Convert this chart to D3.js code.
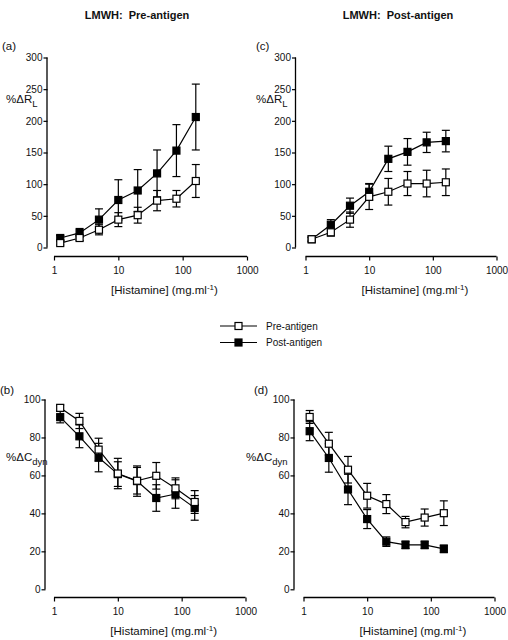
<!DOCTYPE html>
<html><head><meta charset="utf-8">
<script src="https://cdn.jsdelivr.net/npm/d3@7"></script>
<style>body{margin:0;background:#fff}svg{display:block;font-family:"Liberation Sans",Arial,sans-serif}text{white-space:pre}</style>
</head><body>
<svg id="c" width="508" height="640"></svg>
<script>
const doses = [1.25, 2.5, 5, 10, 20, 40, 80, 160];
const xTicks = [1, 10, 100, 1000];
const rlTicks = [0, 50, 100, 150, 200, 250, 300];
const cdynTicks = [0, 20, 40, 60, 80, 100];
const seriesNames = ["Pre-antigen", "Post-antigen"];
const titles = ["LMWH:  Pre-antigen", "LMWH:  Post-antigen"];

const aPre = [7, 15, 28, 44, 51, 74, 77, 105];
const aPreErr = [3, 4, 8, 11, 12.5, 16, 13, 26];
const aPost = [15, 23, 44, 75, 90, 117, 153, 206];
const aPostErr = [4, 7, 17, 32, 33, 37, 41, 52];

const cPre = [13, 24, 44, 80, 88, 101, 101, 103];
const cPreErr = [3, 6, 12, 20, 21, 19, 21, 21];
const cPost = [13, 36, 66, 88, 140, 151, 166, 168];
const cPostErr = [3, 8, 12, 13, 20, 21, 16, 17];

const bPre = [95.6, 88.7, 73.6, 61, 57.2, 59.8, 53.2, 46];
const bPreErr = [1.5, 4, 6, 8, 7, 7, 5.5, 6];
const bPost = [90.7, 80.6, 69.4, 60.7, 57, 48.1, 50.2, 42.9];
const bPostErr = [3, 6, 7.5, 6.5, 8, 7, 7.5, 6.5];

const dPre = [90.8, 76.7, 63, 49.3, 44.9, 35.4, 37.8, 40.1];
const dPreErr = [3.4, 6, 7, 6.5, 5, 3, 4.5, 6.5];
const dPost = [83.3, 69.2, 52.6, 37, 25.1, 23.4, 23.4, 21.3];
const dPostErr = [5, 7.5, 8, 5, 2.5, 2, 2, 2];

const svg = d3.select("#c");

function panel(opt) {
  const g = svg.append("g");
  const x = d3.scaleLog().domain([1, 1000]).range([opt.x0, opt.x1]);
  const y = d3.scaleLinear().domain([0, opt.ymax]).range([opt.yb, opt.yt]);

  // y axis
  const ya = g.append("g").attr("transform", `translate(${opt.ax},0)`)
    .call(d3.axisLeft(y).tickValues(opt.yticks).tickSize(4).tickPadding(1).tickFormat(d3.format("d")));
  ya.select(".domain").attr("d", `M-0.5,${opt.yb}V${opt.yt}`).attr("stroke-width", 1.3);
  ya.selectAll(".tick line").attr("stroke-width", 1.2);
  ya.selectAll("text").attr("font-size", 10).attr("fill", "#111");

  // x axis
  const xa = g.append("g").attr("transform", `translate(0,${opt.xy})`)
    .call(d3.axisBottom(x).tickValues(xTicks).tickSize(4).tickPadding(6).tickFormat(d3.format("d")));
  xa.select(".domain").attr("d", `M${opt.x0},0H${opt.x1}`).attr("stroke-width", 1.3);
  xa.selectAll(".tick line").attr("stroke-width", 1.2);
  xa.selectAll("text").attr("font-size", 10).attr("fill", "#111");

  // x title
  const xt = g.append("text").attr("x", (opt.x0 + opt.x1) / 2 + 14).attr("y", opt.xy + 37)
    .attr("text-anchor", "middle").attr("font-size", 11.5).attr("fill", "#111");
  xt.append("tspan").text("[Histamine] (mg.ml");
  xt.append("tspan").attr("dy", -4).attr("font-size", 8).text("-1");
  xt.append("tspan").attr("dy", 4).text(")");

  // y title
  const yt = g.append("text").attr("x", opt.ytx).attr("y", opt.yty)
    .attr("font-size", 11.5).attr("fill", "#111");
  yt.append("tspan").text(opt.ylab[0]);
  yt.append("tspan").attr("dy", 4).attr("font-size", 9.5).text(opt.ylab[1]);

  // panel label
  g.append("text").attr("x", opt.lx).attr("y", opt.ly).attr("font-size", 11.5).attr("fill", "#111").text(opt.label);

  const series = [
    {vals: opt.post, err: opt.postErr, fill: "#000"},
    {vals: opt.pre, err: opt.preErr, fill: "#fff"}
  ];
  const cap = 4;
  series.forEach(s => {
    const pts = doses.map((d, i) => ({d, v: s.vals[i], e: s.err[i]}));
    const eb = g.append("g").attr("stroke", "#000").attr("stroke-width", 1.2);
    pts.forEach(p => {
      const cx = x(p.d), t = y(p.v + p.e), b = y(p.v - p.e);
      eb.append("line").attr("x1", cx).attr("x2", cx).attr("y1", t).attr("y2", b);
      eb.append("line").attr("x1", cx - cap).attr("x2", cx + cap).attr("y1", t).attr("y2", t);
      eb.append("line").attr("x1", cx - cap).attr("x2", cx + cap).attr("y1", b).attr("y2", b);
    });
    s.pts = pts;
  });
  series.forEach(s => {
    g.append("path").datum(s.pts)
      .attr("d", d3.line().x(p => x(p.d)).y(p => y(p.v)))
      .attr("fill", "none").attr("stroke", "#000").attr("stroke-width", 1.2);
  });
  series.forEach(s => {
    g.append("g").selectAll("rect").data(s.pts).join("rect")
      .attr("x", p => x(p.d) - 3.5).attr("y", p => y(p.v) - 3.5)
      .attr("width", 7).attr("height", 7)
      .attr("fill", s.fill).attr("stroke", "#000").attr("stroke-width", 1.2);
  });
}

panel({x0: 54, x1: 247, ax: 47.5, yb: 247.5, yt: 57.5, ymax: 300, yticks: rlTicks, xy: 256.5,
  pre: aPre, preErr: aPreErr, post: aPost, postErr: aPostErr,
  ylab: ["%ΔR", "L"], ytx: 6, yty: 103, label: "(a)", lx: 2, ly: 50});
panel({x0: 305.5, x1: 496.5, ax: 296, yb: 247.5, yt: 57.5, ymax: 300, yticks: rlTicks, xy: 256.5,
  pre: cPre, preErr: cPreErr, post: cPost, postErr: cPostErr,
  ylab: ["%ΔR", "L"], ytx: 256, yty: 103, label: "(c)", lx: 256, ly: 50});
panel({x0: 54, x1: 245.5, ax: 45.5, yb: 589.3, yt: 399.5, ymax: 100, yticks: cdynTicks, xy: 597.5,
  pre: bPre, preErr: bPreErr, post: bPost, postErr: bPostErr,
  ylab: ["%ΔC", "dyn"], ytx: 6, yty: 461, label: "(b)", lx: 0, ly: 394});
panel({x0: 303.5, x1: 494.5, ax: 294.5, yb: 589.3, yt: 399.5, ymax: 100, yticks: cdynTicks, xy: 597.5,
  pre: dPre, preErr: dPreErr, post: dPost, postErr: dPostErr,
  ylab: ["%ΔC", "dyn"], ytx: 246, yty: 461, label: "(d)", lx: 254, ly: 394});

// titles
svg.append("text").attr("x", 137).attr("y", 19).attr("text-anchor", "middle")
  .attr("font-size", 11).attr("font-weight", "bold").attr("fill", "#111").text(titles[0]);
svg.append("text").attr("x", 398).attr("y", 19).attr("text-anchor", "middle")
  .attr("font-size", 11).attr("font-weight", "bold").attr("fill", "#111").text(titles[1]);

// legend
const leg = svg.append("g");
seriesNames.forEach((n, i) => {
  const yy = 326 + i * 16.5;
  leg.append("line").attr("x1", 220).attr("x2", 257).attr("y1", yy).attr("y2", yy)
    .attr("stroke", "#000").attr("stroke-width", 1.2);
  leg.append("rect").attr("x", 238.5 - 3.5).attr("y", yy - 3.5).attr("width", 7).attr("height", 7)
    .attr("fill", i === 0 ? "#fff" : "#000").attr("stroke", "#000").attr("stroke-width", 1.2);
  leg.append("text").attr("x", 266).attr("y", yy + 3.5).attr("font-size", 10).attr("fill", "#111").text(n);
});
</script>
</body></html>
